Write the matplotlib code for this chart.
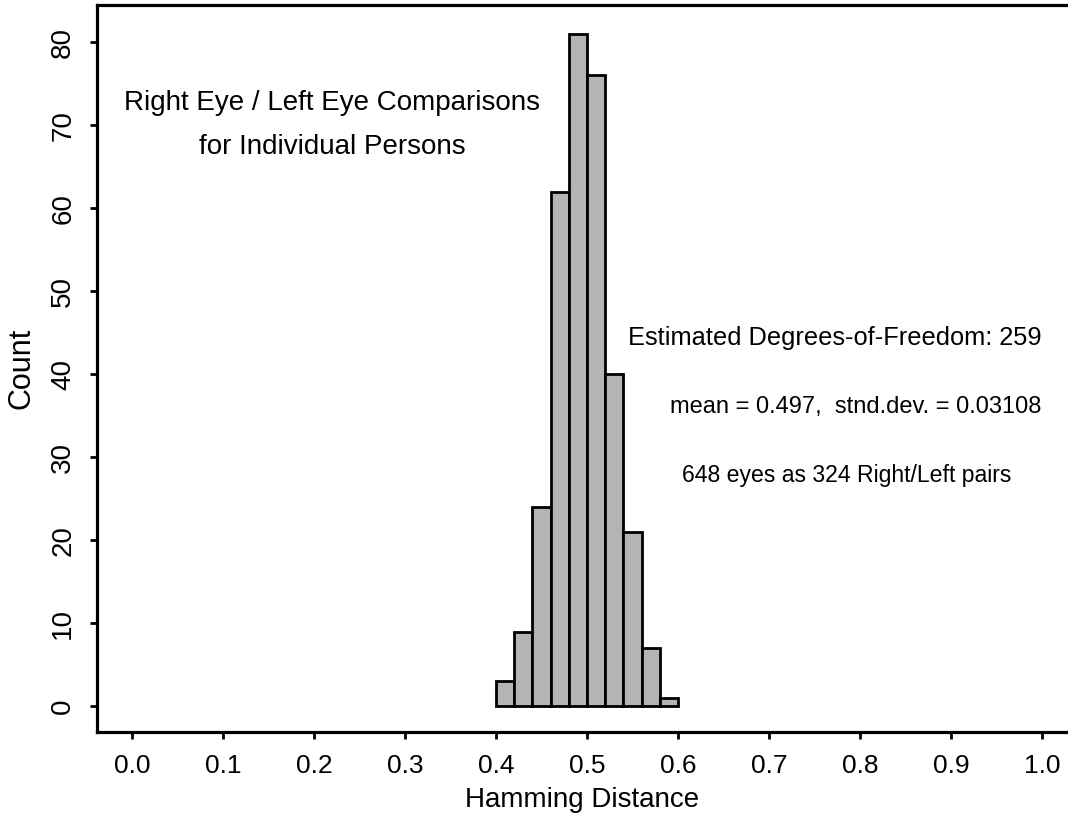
import matplotlib
matplotlib.use("Agg")
import matplotlib.pyplot as plt
import numpy as np

plt.rcParams['font.family'] = ['Liberation Sans', 'DejaVu Sans']

bin_edges = [0.40, 0.42, 0.44, 0.46, 0.48, 0.50, 0.52, 0.54, 0.56, 0.58, 0.60]
counts = [3, 9, 24, 62, 81, 76, 40, 21, 7, 1]
x_ticks = [0.0, 0.1, 0.2, 0.3, 0.4, 0.5, 0.6, 0.7, 0.8, 0.9, 1.0]
y_ticks = [0, 10, 20, 30, 40, 50, 60, 70, 80]

fig = plt.figure(figsize=(10.68, 8.25), dpi=100)
ax = fig.add_axes([0.0908, 0.1127, 0.9092, 0.8812])

lefts = np.array(bin_edges[:-1])
widths = np.diff(bin_edges)
ax.bar(lefts, counts, width=widths, align='edge', color='#b4b4b4',
       edgecolor='black', linewidth=2.0)

ax.set_xlim(-0.0385, 1.0286)
ax.set_ylim(-3.1, 84.46)

ax.set_xticks(x_ticks)
ax.set_xticklabels([f"{v:.1f}" for v in x_ticks])
ax.set_yticks(y_ticks)
ax.set_yticklabels([str(v) for v in y_ticks], rotation=90, va='center')

ax.tick_params(axis='both', direction='out', length=5, width=2)
ax.tick_params(axis='x', labelsize=19, pad=11)
ax.tick_params(axis='y', labelsize=20, pad=10)

for s in ['left', 'bottom', 'top']:
    ax.spines[s].set_linewidth(2.3)
ax.spines['right'].set_visible(False)

ax.set_xlabel('Hamming Distance', fontsize=20, labelpad=6)
ax.set_ylabel('Count', fontsize=22, labelpad=10)

ax.text(0.220, 72.7, 'Right Eye / Left Eye Comparisons', ha='center', va='center', fontsize=20)
ax.text(0.220, 67.4, 'for Individual Persons', ha='center', va='center', fontsize=20)
ax.text(0.7725, 44.3, 'Estimated Degrees-of-Freedom: 259', ha='center', va='center', fontsize=18.3)
ax.text(0.7953, 36.0, 'mean = 0.497,  stnd.dev. = 0.03108', ha='center', va='center', fontsize=17)
ax.text(0.785, 27.8, '648 eyes as 324 Right/Left pairs', ha='center', va='center', fontsize=16.6)

fig.savefig('out.png', dpi=100)
